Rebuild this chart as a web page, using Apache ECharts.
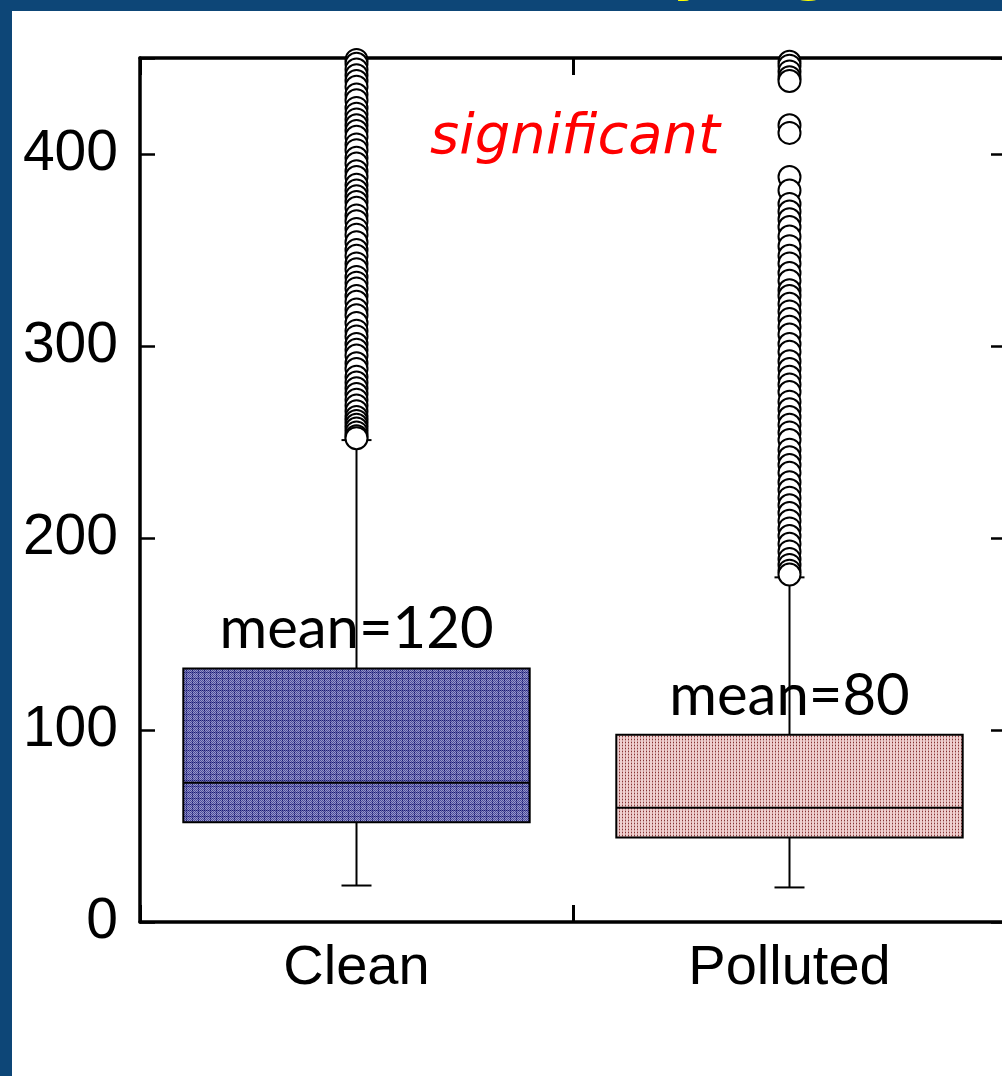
<!DOCTYPE html>
<html>
<head>
<meta charset="utf-8">
<script src="https://cdn.jsdelivr.net/npm/echarts@6/dist/echarts.min.js"></script>
<style>
html,body{margin:0;padding:0;background:#0d4677;}
#chart{width:1002px;height:1076px;}
</style>
</head>
<body>
<div id="chart"></div>
<script>
// ---- data ----
const categories = ['Clean', 'Polluted'];
// [lower whisker, Q1, median, Q3, upper whisker]
const boxStats = [
  [19, 52, 72.5, 132, 251],
  [18, 44, 59.5, 97.5, 179.5]
];
const meanValues = [120, 80];
const yTicks = [0, 100, 200, 300, 400];
const yMin = 0, yMax = 450, yStep = 100;
const cleanOutliers = [449, 447, 444, 441, 438, 435, 431, 428, 424, 421, 418, 415, 412, 409, 405, 402,
  398, 395, 391, 388, 384, 381, 378, 375, 372, 368, 365, 361, 358, 354, 350, 347, 343, 340, 336, 333,
  330, 326, 323, 319, 316, 312, 308, 305, 301, 298, 295, 291, 288, 284, 281, 278, 275, 272, 269, 266,
  263, 261, 259, 257, 255, 253, 252];
const pollutedOutliers = [448, 446, 443, 440, 438, 415, 411, 388, 381, 374, 370, 366, 362, 357, 352, 347,
  343, 338, 334, 329, 326, 322, 318, 314, 310, 306, 301, 297, 292, 288, 284, 280, 276, 271, 267, 263,
  259, 255, 251, 246, 242, 238, 234, 229, 225, 221, 217, 213, 209, 205, 201, 197, 193, 189, 186, 183, 181];
const annotation = 'significant';

// ---- fill patterns ----
function makePattern(w, h, draw) {
  const c = document.createElement('canvas');
  c.width = w; c.height = h;
  const ctx = c.getContext('2d');
  draw(ctx);
  return {image: c, repeat: 'repeat'};
}
const bluePattern = makePattern(6, 6, ctx => {
  for (let y = 0; y < 6; y++) for (let x = 0; x < 6; x++) {
    ctx.fillStyle = ((x + y) % 2 === 0) ? '#4a4a9e' : '#9898c8';
    if (x === 0 || y === 0) ctx.fillStyle = ((x + y) % 2 === 0) ? '#181876' : '#6868a8';
    ctx.fillRect(x, y, 1, 1);
  }
});
const pinkPattern = makePattern(3, 3, ctx => {
  ctx.fillStyle = '#eed0d0'; ctx.fillRect(0, 0, 3, 3);
  ctx.fillStyle = '#d09c9c'; ctx.fillRect(1, 0, 1, 3);
  ctx.fillStyle = '#843434'; ctx.fillRect(1, 1, 1, 1);
});
const fills = [bluePattern, pinkPattern];

const chart = echarts.init(document.getElementById('chart'), null, {renderer: 'canvas'});

const gridLeft = 140, gridTop = 58, gridW = 866, gridH = 864;
const axisFont = '"Liberation Sans", Arial, sans-serif';

function yLabel(v) { return yTicks.indexOf(v) >= 0 ? String(v) : ''; }

const option = {
  backgroundColor: '#0d4677',
  animation: false,
  grid: {left: gridLeft, top: gridTop, width: gridW, height: gridH, containLabel: false, outerBoundsMode: 'none'},
  graphic: [
    {type: 'rect', z: -100, shape: {x: 12, y: 11, width: 1000, height: 1070}, style: {fill: '#ffffff'}},
    {type: 'text', z: 100, x: 678, y: -24, style: {text: 'y', fill: '#ffff00', font: 'italic bold 52px "DejaVu Sans"', align: 'left', verticalAlign: 'middle'}},
    {type: 'text', z: 100, x: 792, y: -24, style: {text: 'g', fill: '#ffff00', font: 'bold 52px "DejaVu Sans"', align: 'left', verticalAlign: 'middle'}},
    {type: 'text', z: 100, x: 575, y: 138, style: {text: annotation, fill: '#ff0000', font: 'italic 56px "DejaVu Sans"', align: 'center', verticalAlign: 'middle'}}
  ],
  xAxis: [
    {
      type: 'category', data: categories, position: 'bottom', boundaryGap: true,
      axisLine: {show: true, onZero: false, lineStyle: {color: '#000', width: 3.5}},
      axisTick: {show: true, inside: true, length: 17, lineStyle: {color: '#000', width: 3}},
      axisLabel: {color: '#000', fontFamily: axisFont, fontSize: 56, margin: 19},
      splitLine: {show: false}
    },
    {
      type: 'category', data: categories, position: 'top', boundaryGap: true,
      axisLine: {show: true, onZero: false, lineStyle: {color: '#000', width: 3.5}},
      axisTick: {show: true, inside: true, length: 17, lineStyle: {color: '#000', width: 3}},
      axisLabel: {show: false}, splitLine: {show: false}
    }
  ],
  yAxis: [
    {
      type: 'value', min: yMin, max: yMax, interval: yStep, position: 'left',
      axisLine: {show: true, onZero: false, lineStyle: {color: '#000', width: 3.5}},
      axisTick: {show: true, inside: true, length: 15, lineStyle: {color: '#000', width: 2.5}},
      axisLabel: {color: '#000', fontFamily: axisFont, fontSize: 57, margin: 22, formatter: yLabel, showMaxLabel: true},
      splitLine: {show: false}
    },
    {
      type: 'value', min: yMin, max: yMax, interval: yStep, position: 'right',
      axisLine: {show: true, onZero: false, lineStyle: {color: '#000', width: 3.5}},
      axisTick: {show: true, inside: true, length: 15, lineStyle: {color: '#000', width: 2.5}},
      axisLabel: {show: false}, splitLine: {show: false}
    }
  ],
  series: [
    {
      type: 'custom',
      xAxisIndex: 0, yAxisIndex: 0, z: 3,
      data: boxStats.map((s, i) => [i].concat(s).concat([meanValues[i]])),
      renderItem: function (params, api) {
        const idx = api.value(0);
        const lo = api.coord([idx, api.value(1)]);
        const q1 = api.coord([idx, api.value(2)]);
        const med = api.coord([idx, api.value(3)]);
        const q3 = api.coord([idx, api.value(4)]);
        const hi = api.coord([idx, api.value(5)]);
        const mean = api.value(6);
        const band = api.size([1, 0])[0];
        const bw = band * 0.8;
        const cx = lo[0];
        const cap = 15;
        const ls = {stroke: '#000', lineWidth: 2};
        return {
          type: 'group',
          children: [
            {type: 'text', style: {text: 'mean=' + mean, x: cx, y: q3[1] - 10, fill: '#000',
              font: '58px Lato, "Open Sans", sans-serif', align: 'center', verticalAlign: 'bottom'}},
            {type: 'rect', shape: {x: cx - bw / 2, y: q3[1], width: bw, height: q1[1] - q3[1]},
              style: {fill: fills[idx], stroke: '#000', lineWidth: 2}},
            {type: 'line', shape: {x1: cx - bw / 2, y1: med[1], x2: cx + bw / 2, y2: med[1]}, style: ls},
            {type: 'line', shape: {x1: cx, y1: q3[1], x2: cx, y2: hi[1]}, style: ls},
            {type: 'line', shape: {x1: cx, y1: q1[1], x2: cx, y2: lo[1]}, style: ls},
            {type: 'line', shape: {x1: cx - cap, y1: hi[1], x2: cx + cap, y2: hi[1]}, style: ls},
            {type: 'line', shape: {x1: cx - cap, y1: lo[1], x2: cx + cap, y2: lo[1]}, style: ls}
          ]
        };
      }
    },
    {
      type: 'scatter', xAxisIndex: 0, yAxisIndex: 0, z: 4,
      symbol: 'circle', symbolSize: 22,
      itemStyle: {color: '#ffffff', borderColor: '#000', borderWidth: 2, opacity: 1},
      data: cleanOutliers.map(v => [0, v]).concat(pollutedOutliers.map(v => [1, v]))
    }
  ]
};
chart.setOption(option);
</script>
</body>
</html>
